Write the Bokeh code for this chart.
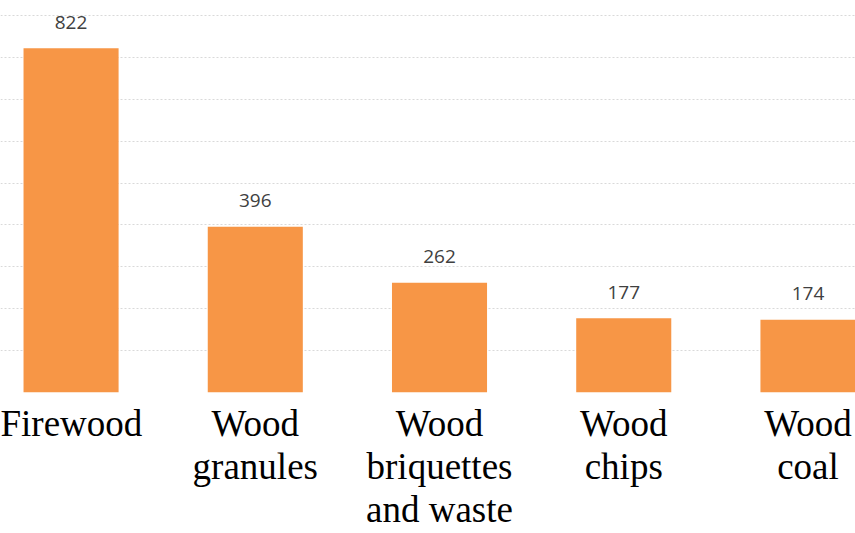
from bokeh.plotting import figure
from bokeh.models import ColumnDataSource, LabelSet, FixedTicker, Range1d
from bokeh.core.properties import value
from bokeh.embed import file_html
from bokeh.resources import INLINE

categories = ["Firewood", "Wood\ngranules", "Wood\nbriquettes\nand waste", "Wood\nchips", "Wood\ncoal"]
values = [822, 396, 262, 177, 174]
grid_ticks = [100, 200, 300, 400, 500, 600, 700, 800, 900]

xs = list(range(len(categories)))
src = ColumnDataSource(dict(x=xs, top=values, label=[str(v) for v in values]))

p = figure(width=855, height=533, output_backend="svg", toolbar_location=None,
           x_range=Range1d(-0.383, 4.258), y_range=Range1d(0, 936),
           min_border_left=0, min_border_right=0, min_border_top=0, min_border_bottom=139)
p.outline_line_color = None
p.background_fill_color = "white"
p.border_fill_color = "white"

p.vbar(x="x", top="top", width=0.516, bottom=0, source=src,
       fill_color="#F79646", line_color=None)

labels = LabelSet(x="x", y="top", text="label", source=src, y_offset=26,
                  text_align="center", text_baseline="middle",
                  text_font=value("Open Sans"), text_font_size="19px", text_color="#404040")
p.add_layout(labels)

p.yaxis.visible = False
p.ygrid.ticker = FixedTicker(ticks=grid_ticks)
p.ygrid.grid_line_color = "#D9D9D9"
p.ygrid.grid_line_dash = "2 2"
p.ygrid.grid_line_width = 1
p.xgrid.visible = False

p.xaxis.ticker = FixedTicker(ticks=xs)
p.xaxis.major_label_overrides = {i: c for i, c in zip(xs, categories)}
p.xaxis.axis_line_color = None
p.xaxis.major_tick_line_color = None
p.xaxis.minor_tick_line_color = None
p.xaxis.major_tick_out = 0
p.xaxis.major_tick_in = 0
p.xaxis.major_label_text_font = "Liberation Serif"
p.xaxis.major_label_text_font_size = "37px"
p.xaxis.major_label_text_line_height = 1.06
p.xaxis.major_label_text_color = "black"
p.xaxis.major_label_standoff = 10

open("out.html", "w").write(file_html(p, INLINE))
